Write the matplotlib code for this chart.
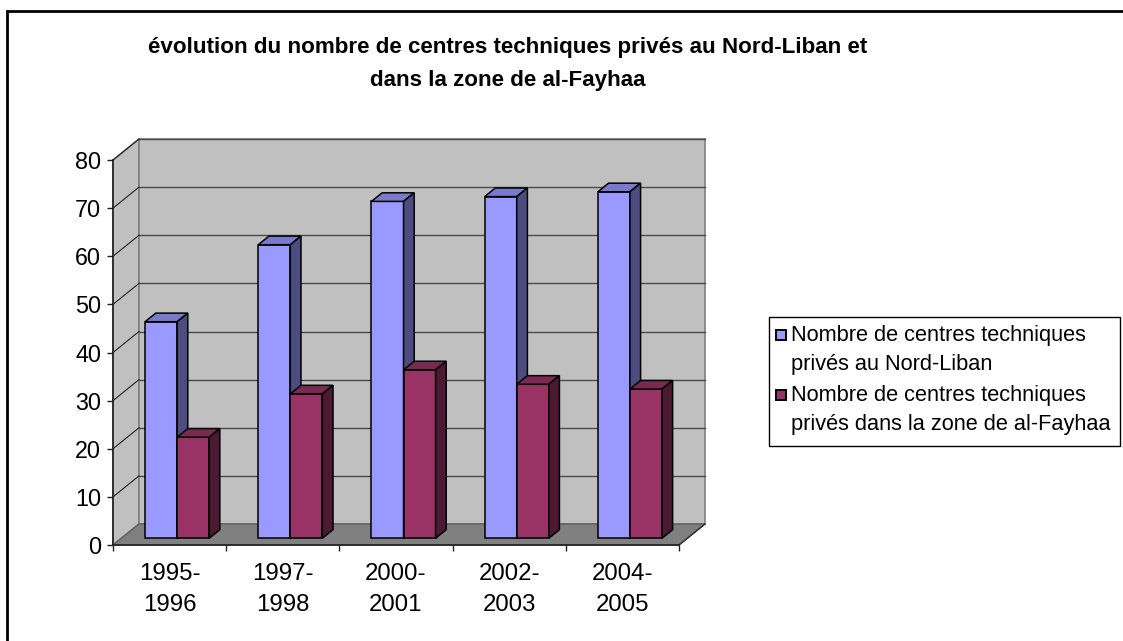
import matplotlib
matplotlib.use("Agg")
import matplotlib.pyplot as plt
from matplotlib.patches import Polygon, Rectangle

# ---- data ----
categories = ["1995-\n1996", "1997-\n1998", "2000-\n2001", "2002-\n2003", "2004-\n2005"]
nord_liban = [45, 61, 70, 71, 72]
al_fayhaa = [21, 30, 35, 32, 31]
series_names = ["Nombre de centres techniques\nprivés au Nord-Liban",
                "Nombre de centres techniques\nprivés dans la zone de al-Fayhaa"]
title = "évolution du nombre de centres techniques privés au Nord-Liban et\ndans la zone de al-Fayhaa"
yticks = list(range(0, 81, 10))

plt.rcParams['font.family'] = ['Liberation Sans', 'DejaVu Sans']

W, H = 1123, 641
fig = plt.figure(figsize=(W / 100, H / 100), dpi=100)
fig.patch.set_facecolor('white')

def fx(x):
    return x / W

def fy(y):
    return 1 - y / H

# front plane of the plot: x 113..679 px, y 545 (0) .. 160 (80)
ax = fig.add_axes([fx(113), fy(545), fx(679) - fx(113), fy(160) - fy(545)])
ax.set_xlim(0, len(categories))
ax.set_ylim(0, 80)
ax.set_facecolor('none')

# depth vector in data units
px_x = 113.2  # px per category
px_y = (545 - 160) / 80.0  # px per unit
Dx, Dy = 26 / px_x, 21 / px_y
n = len(categories)
ymax = 80

wall = '#C0C0C0'
edge = '#808080'
# left side wall
ax.add_patch(Polygon([(0, 0), (Dx, Dy), (Dx, ymax + Dy), (0, ymax)], closed=True,
                     facecolor=wall, edgecolor=edge, lw=1.2, clip_on=False, zorder=0))
# back wall
ax.add_patch(Polygon([(Dx, Dy), (n + Dx, Dy), (n + Dx, ymax + Dy), (Dx, ymax + Dy)], closed=True,
                     facecolor=wall, edgecolor=edge, lw=1.2, clip_on=False, zorder=0))
# floor
ax.add_patch(Polygon([(0, 0), (n, 0), (n + Dx, Dy), (Dx, Dy)], closed=True,
                     facecolor='#808080', edgecolor='#606060', lw=1.0, clip_on=False, zorder=0.5))
# gridlines
for v in yticks[1:]:
    ax.plot([Dx, n + Dx], [v + Dy, v + Dy], color='#4a4a4a', lw=1.0, clip_on=False, zorder=0.6)
    ax.plot([0, Dx], [v, v + Dy], color='#202020', lw=0.8, clip_on=False, zorder=0.6)
ax.plot([n, n + Dx], [0, Dy], color='#303030', lw=1.0, clip_on=False, zorder=0.7)

# bars
f0, f1 = 0.32, 0.73
gap, w = 0.21, 0.283
series = [nord_liban, al_fayhaa]
colors = [('#9999FF', '#7A7ACC', '#4C4C80'), ('#993366', '#7A2952', '#4C1933')]
for i in range(n):
    for s, vals in enumerate(series):
        v = vals[i]
        x0 = i + gap + s * w + f0 * Dx
        front, top, side = colors[s]
        zo = 2 + i * 2 + s * 0.5
        ax.bar(x0, v, width=w, bottom=f0 * Dy, align='edge', color=front,
               edgecolor='black', lw=1.1, zorder=zo, clip_on=False)
        ddx, ddy = (f1 - f0) * Dx, (f1 - f0) * Dy
        t = v + f0 * Dy
        ax.add_patch(Polygon([(x0, t), (x0 + w, t), (x0 + w + ddx, t + ddy), (x0 + ddx, t + ddy)],
                             closed=True, facecolor=top, edgecolor='black', lw=1.1,
                             zorder=zo, clip_on=False))
        ax.add_patch(Polygon([(x0 + w, f0 * Dy), (x0 + w + ddx, f0 * Dy + ddy),
                              (x0 + w + ddx, t + ddy), (x0 + w, t)],
                             closed=True, facecolor=side, edgecolor='black', lw=1.1,
                             zorder=zo, clip_on=False))

# axes
for sp in ['top', 'right']:
    ax.spines[sp].set_visible(False)
for sp in ['left', 'bottom']:
    ax.spines[sp].set_color('#202020')
    ax.spines[sp].set_linewidth(1.2)
    ax.spines[sp].set_zorder(1)
ax.set_yticks(yticks)
ax.set_yticklabels([str(v) for v in yticks], fontsize=16.8)
ax.tick_params(axis='y', length=4.5, width=1, color='#202020', pad=4)
ax.set_xticks(range(n + 1))
ax.set_xticklabels([''] * (n + 1))
ax.tick_params(axis='x', which='major', length=4.5, width=1, color='#202020')
ax.set_xticks([i + 0.5 for i in range(n)], minor=True)
ax.set_xticklabels(categories, minor=True, fontsize=17.3, linespacing=1.5)
ax.tick_params(axis='x', which='minor', length=0, pad=13)

# outer border
fig.patches.append(Rectangle((fx(7), fy(H + 5)), fx(W + 10), fy(11) - fy(H + 5),
                             transform=fig.transFigure, fill=False, edgecolor='black',
                             lw=2, zorder=10))

# title
fig.text(fx(508), fy(64), title, ha='center', va='center', fontsize=16.1,
         fontweight='bold', linespacing=1.75)

# legend
fig.patches.append(Rectangle((fx(769), fy(446)), fx(1120) - fx(769), fy(317) - fy(446),
                             transform=fig.transFigure, fill=False, edgecolor='black',
                             lw=1, zorder=10))
for k, name in enumerate(series_names):
    yc = 335 + k * 60
    fig.patches.append(Rectangle((fx(775.5), fy(yc + 5)), fx(10), fy(0) - fy(10),
                                 transform=fig.transFigure, facecolor=colors[k][0],
                                 edgecolor='black', lw=1.4, zorder=10))
    fig.text(fx(791), fy(yc + 15), name, ha='left', va='center', fontsize=15.7,
             linespacing=1.5)

fig.savefig('out.png', dpi=100)
